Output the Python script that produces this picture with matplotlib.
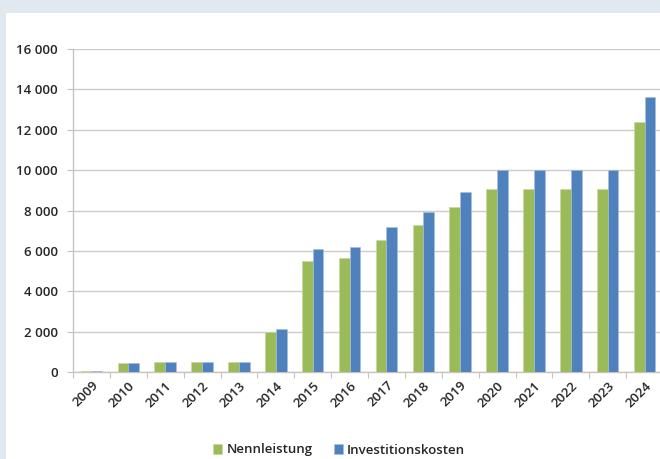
import matplotlib.pyplot as plt
import matplotlib.patches as mpatches
import numpy as np

plt.rcParams['font.family'] = ['Open Sans', 'DejaVu Sans']

# data
years = ['2009', '2010', '2011', '2012', '2013', '2014', '2015', '2016',
         '2017', '2018', '2019', '2020', '2021', '2022', '2023', '2024']
nennleistung = [50, 460, 510, 510, 510, 2000, 5510, 5630,
                6540, 7280, 8160, 9080, 9080, 9080, 9080, 12400]
investitionskosten = [50, 460, 510, 510, 510, 2130, 6090, 6190,
                      7200, 7940, 8930, 10000, 10000, 10000, 10000, 13640]
yticks = [0, 2000, 4000, 6000, 8000, 10000, 12000, 14000, 16000]
ytick_labels = ['0', '2 000', '4 000', '6 000', '8 000', '10 000', '12 000', '14 000', '16 000']

green = '#9bbb59'
blue = '#4f81bd'
text_col = '#262626'

fig = plt.figure(figsize=(6.6, 4.59), dpi=100)
fig.patch.set_facecolor('#e1e9f0')
# white panel behind everything
panel = mpatches.Rectangle((6 / 660, 0), 1, 1 - 13 / 459,
                           transform=fig.transFigure,
                           facecolor='white', edgecolor='none', zorder=-10)
fig.add_artist(panel)

ax = fig.add_axes([73 / 660, 1 - 372 / 459, 590 / 660, 323 / 459])
ax.set_zorder(1)
ax.set_facecolor('white')

x = np.arange(len(years))
w = 0.29
ax.bar(x - w / 2, nennleistung, w, color=green, edgecolor='#c5d8a0', linewidth=0.4,
       label='Nennleistung', zorder=3)
ax.bar(x + w / 2, investitionskosten, w, color=blue, edgecolor='#a9c0de', linewidth=0.4,
       label='Investitionskosten', zorder=3)

ax.set_xlim(-0.5, len(years) - 0.5)
ax.set_ylim(0, 16000)
ax.set_yticks(yticks)
ax.set_yticklabels(ytick_labels)
ax.set_xticks(np.arange(len(years) + 1) - 0.5, minor=False)
ax.set_xticklabels([])
ax.set_xticks(x, minor=True)
ax.set_xticklabels(years, minor=True, rotation=45, ha='right', rotation_mode='anchor')

ax.yaxis.grid(True, color='#cfcbc8', linewidth=1.0, zorder=0)
ax.set_axisbelow(True)
for s in ['top', 'right']:
    ax.spines[s].set_visible(False)
ax.spines['left'].set_color('#c8c4c0')
ax.spines['bottom'].set_color('#c8c4c0')
ax.spines['left'].set_linewidth(1.0)
ax.spines['bottom'].set_linewidth(1.0)

ax.tick_params(axis='y', length=4, color='#c8c4c0', pad=7, labelsize=9.5,
               labelcolor=text_col)
ax.tick_params(axis='x', which='major', length=4, color='#c8c4c0')
ax.tick_params(axis='x', which='minor', length=0, pad=5, labelsize=9.5,
               labelcolor=text_col)
for lbl in ax.get_yticklabels() + ax.get_xticklabels(minor=True):
    lbl.set_fontweight('semibold')

leg = fig.legend(loc='center', bbox_to_anchor=(339 / 660, 1 - 450 / 459), ncol=2,
                 frameon=False, fontsize=9.5, handlelength=0.7, handleheight=0.7,
                 handletextpad=0.3, columnspacing=1.6, labelcolor=text_col)
for t in leg.get_texts():
    t.set_fontweight('semibold')

fig.savefig('out.png', dpi=100, facecolor=fig.get_facecolor())
plt.close(fig)
